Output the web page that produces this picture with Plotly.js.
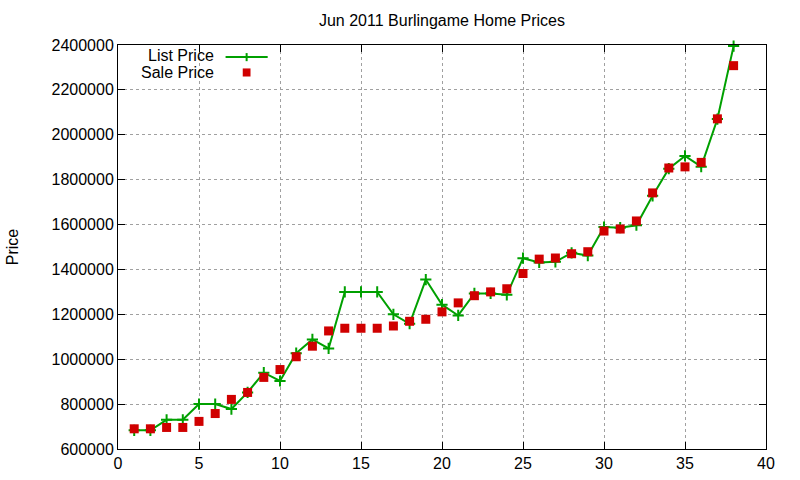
<!DOCTYPE html>
<html>
<head>
<meta charset="utf-8">
<script src="https://cdn.plot.ly/plotly-3.0.1.min.js"></script>
<style>
  body { margin: 0; background: #fff; }
  #chart { width: 800px; height: 480px; }
</style>
</head>
<body>
<div id="chart"></div>
<script>
// house index 1..38, list price and sale price
var houses = [];
for (var i = 1; i <= 38; i++) houses.push(i);

var listPrice = [683000, 683000, 730000, 730000, 800000, 800000, 778000, 852000, 940000, 903000,
                 1027000, 1088000, 1048000, 1300000, 1300000, 1300000, 1200000, 1158000, 1355000, 1243000,
                 1195000, 1293000, 1293000, 1287000, 1450000, 1431000, 1434000, 1474000, 1462000, 1589000,
                 1586000, 1597000, 1728000, 1849000, 1906000, 1858000, 2070000, 2395000];

var salePrice = [690000, 690000, 696000, 696000, 723000, 758000, 821000, 852000, 919000, 954000,
                 1011000, 1058000, 1126000, 1138000, 1138000, 1138000, 1148000, 1169000, 1178000, 1211000,
                 1251000, 1283000, 1300000, 1314000, 1382000, 1446000, 1451000, 1470000, 1479000, 1571000,
                 1580000, 1616000, 1741000, 1852000, 1857000, 1877000, 2071000, 2308000];

var font = { family: 'Liberation Sans, Arial, sans-serif', size: 16, color: '#000' };

var traces = [
    {
        x: houses, y: listPrice, name: 'List Price',
        type: 'scatter', mode: 'lines+markers', cliponaxis: false,
        line: { color: '#00a000', width: 2 },
        marker: { symbol: 'cross-thin', size: 8, line: { color: '#00a000', width: 2 } }
    },
    {
        x: houses, y: salePrice, name: 'Sale Price',
        type: 'scatter', mode: 'markers', cliponaxis: false,
        marker: { symbol: 'square', size: 9, color: '#d00000' }
    }
];

var axisCommon = {
    showline: true, linecolor: '#000', linewidth: 1, mirror: 'ticks',
    ticks: 'inside', ticklen: 7, tickcolor: '#000',
    showgrid: true, gridcolor: '#a0a0a0', griddash: 'dot', gridwidth: 1,
    zeroline: false, tickfont: font
};

var layout = {
    width: 800, height: 480,
    margin: { l: 118, r: 34, t: 45, b: 31 },
    paper_bgcolor: '#fff', plot_bgcolor: '#fff',
    font: font,
    showlegend: false,
    title: { text: 'Jun 2011 Burlingame Home Prices', font: font, x: 0.5, xref: 'paper', y: 0.958, yanchor: 'middle' },
    xaxis: Object.assign({}, axisCommon, { range: [0, 40], dtick: 5, tick0: 0 }),
    yaxis: Object.assign({}, axisCommon, {
        range: [600000, 2400000], dtick: 200000, tick0: 600000, tickformat: 'd',
        title: { text: 'Price', font: font, standoff: 28 }
    }),
    // gnuplot-style key: text on the left, sample on the right
    annotations: [
        { xref: 'paper', yref: 'paper', x: 0.151, y: 0.974, xanchor: 'right', yanchor: 'middle',
          text: 'List Price', showarrow: false, font: font },
        { xref: 'paper', yref: 'paper', x: 0.151, y: 0.932, xanchor: 'right', yanchor: 'middle',
          text: 'Sale Price', showarrow: false, font: font }
    ],
    shapes: [
        { type: 'line', xref: 'paper', yref: 'paper', x0: 0.166, x1: 0.231, y0: 0.970, y1: 0.970,
          line: { color: '#00a000', width: 2 } },
        { type: 'line', xref: 'paper', yref: 'paper', x0: 0.1985, x1: 0.1985, y0: 0.960, y1: 0.980,
          line: { color: '#00a000', width: 2 } },
        { type: 'rect', xref: 'paper', yref: 'paper', x0: 0.1925, x1: 0.2045, y0: 0.922, y1: 0.942,
          fillcolor: '#d00000', line: { width: 0 } }
    ]
};

Plotly.newPlot('chart', traces, layout, { displayModeBar: false, staticPlot: true });
</script>
</body>
</html>
